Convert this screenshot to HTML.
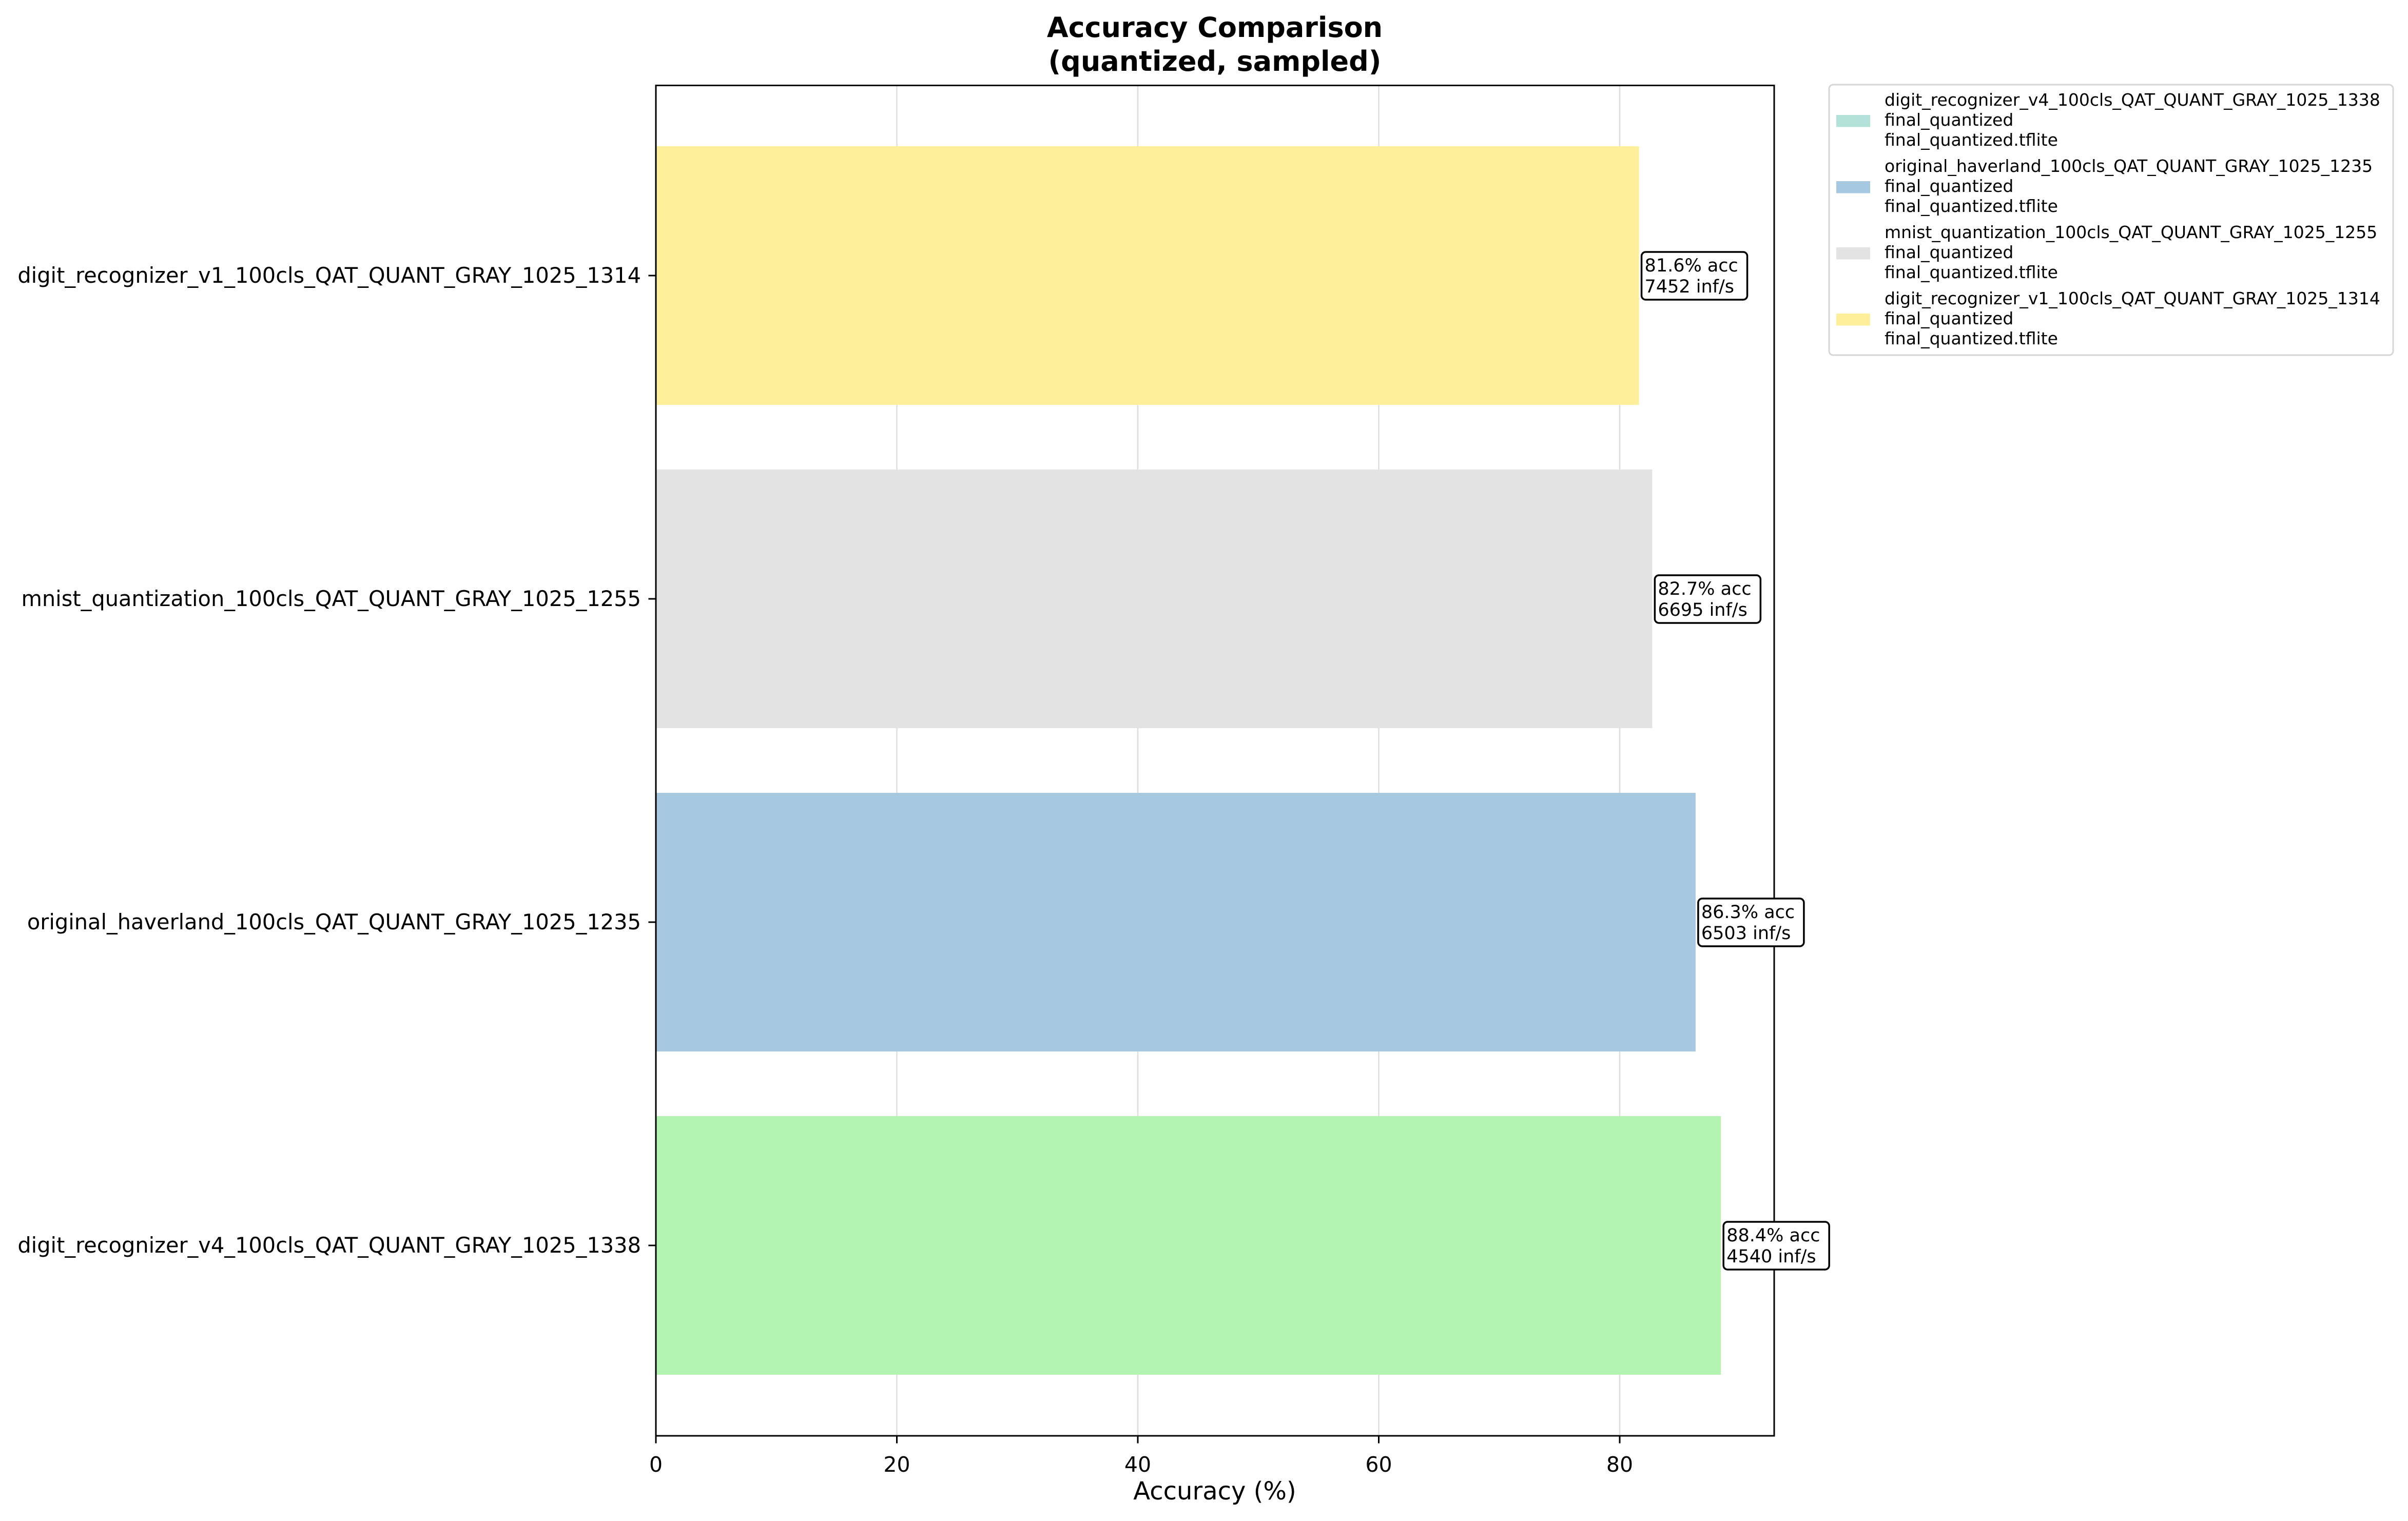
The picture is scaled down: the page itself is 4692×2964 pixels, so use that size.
<!DOCTYPE html>
<html><head><meta charset="utf-8"><style>
html,body{margin:0;padding:0;background:#fff;}
svg{display:block;font-family:"DejaVu Sans","Liberation Sans",sans-serif;}
</style></head><body>
<svg id="chart" width="4692" height="2964" viewBox="0 0 4692 2964" xmlns="http://www.w3.org/2000/svg">
<rect width="4692" height="2964" fill="#fff"/>
<text x="2367" y="72" text-anchor="middle" font-size="54" font-weight="bold">Accuracy Comparison</text>
<text x="2367" y="138" text-anchor="middle" font-size="54" font-weight="bold">(quantized, sampled)</text>
<g id="grid"></g>
<g id="bars"></g>
<rect x="1278" y="166.5" width="2179" height="2631.5" fill="none" stroke="#000" stroke-width="3"/>
<g id="axes"></g>
<text x="2367" y="2922" text-anchor="middle" font-size="48">Accuracy (%)</text>
<g id="legend"></g>
</svg>
<script>
const categories = ["digit_recognizer_v4_100cls_QAT_QUANT_GRAY_1025_1338","original_haverland_100cls_QAT_QUANT_GRAY_1025_1235","mnist_quantization_100cls_QAT_QUANT_GRAY_1025_1255","digit_recognizer_v1_100cls_QAT_QUANT_GRAY_1025_1314"];
const accuracy = [88.4, 86.3, 82.7, 81.6];
const throughput = [4540, 6503, 6695, 7452];
const barColors = ["#b2f4b0","#a6c8e0","#e3e3e3","#fef09a"];
const legendColors = ["#b2e2d8","#a6c8e0","#e3e3e3","#fef09a"];
const xTicks = [0, 20, 40, 60, 80];

const NS="http://www.w3.org/2000/svg";
const X0=1278, PX=23.475, L=1278, R=3457, T=166.5, B=2798;
const xs=v=>X0+v*PX;
const yc=i=>2427-i*630;
const BH=504;
function mk(tag,attrs,parent){const e=document.createElementNS(NS,tag);for(const k in attrs)e.setAttribute(k,attrs[k]);parent.appendChild(e);return e;}
const grid=document.getElementById('grid'),bars=document.getElementById('bars'),axes=document.getElementById('axes'),legend=document.getElementById('legend');

xTicks.forEach(t=>{
  const g=mk('line',{x1:xs(t),x2:xs(t),y1:T,y2:B,stroke:'#dddddd','stroke-width':2.5},grid);
  
  
  const tk=mk('line',{x1:xs(t),x2:xs(t),y1:B,y2:B+14.6,stroke:'#000','stroke-width':3},axes);
  
  
  const tl=mk('text',{x:xs(t),y:B+70,'text-anchor':'middle','font-size':41},axes);
  tl.textContent=t;
  
  
});

categories.forEach((c,i)=>{
  const y=yc(i);
  const r=mk('rect',{x:xs(0),y:y-BH/2,width:xs(accuracy[i])-xs(0),height:BH,fill:barColors[i]},bars);
  
  
  const tk=mk('line',{x1:L-14.6,x2:L,y1:y,y2:y,stroke:'#000','stroke-width':3},axes);
  
  
  const tl=mk('text',{x:L-29,y:y+14,'text-anchor':'end','font-size':41.5},axes);
  tl.textContent=c;
  
  
  const bx=xs(accuracy[i])+5;
  const g=mk('g',{},axes);
  
  
  const t1=accuracy[i].toFixed(1)+'% acc', t2=throughput[i]+' inf/s';
  const w=Math.max(t1.length,t2.length)*19.4+12;
  mk('rect',{x:bx,y:y-46,width:w,height:93,rx:8,fill:'#fff',stroke:'#000','stroke-width':3.5},g);
  const a=mk('text',{x:bx+6,y:y-8,'font-size':35},g);a.textContent=t1;
  const b=mk('text',{x:bx+6,y:y+33,'font-size':35},g);b.textContent=t2;
});

const lb=mk('rect',{x:3564,y:165,width:1099,height:527,rx:8,fill:'#fff',stroke:'#d6d6d6','stroke-width':3},legend);


categories.forEach((c,i)=>{
  const y0=235+i*129;
  const g=mk('g',{},legend);
  
  
  mk('rect',{x:3578,y:y0-11,width:66,height:23.5,fill:legendColors[i]},g);
  [c,'final_quantized','final_quantized.tflite'].forEach((s,k)=>{
    const t=mk('text',{x:3672,y:y0-40+k*39+11,'font-size':33},g);t.textContent=s;
  });
});
</script>
</body></html>
